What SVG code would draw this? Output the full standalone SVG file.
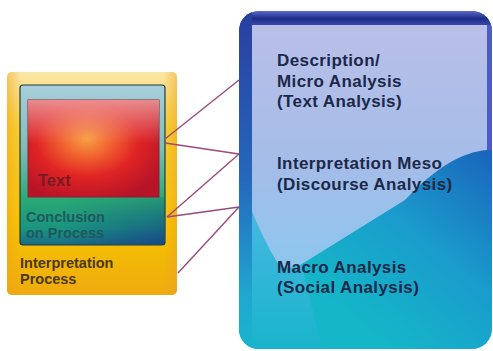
<svg xmlns="http://www.w3.org/2000/svg" width="493" height="351" viewBox="0 0 493 351">
<defs>
<linearGradient id="gYellow" x1="0" y1="0" x2="0" y2="1">
<stop offset="0" stop-color="#fbe7a8"/>
<stop offset="0.25" stop-color="#f8d030"/>
<stop offset="0.7" stop-color="#f6c400"/>
<stop offset="1" stop-color="#efaa10"/>
</linearGradient>
<linearGradient id="gYellowSide" x1="0" y1="0" x2="1" y2="0">
<stop offset="0" stop-color="#f0a020" stop-opacity="0.5"/>
<stop offset="0.08" stop-color="#f0a020" stop-opacity="0"/>
<stop offset="0.92" stop-color="#f0a020" stop-opacity="0"/>
<stop offset="1" stop-color="#f0a020" stop-opacity="0.5"/>
</linearGradient>
<linearGradient id="gTeal" x1="0" y1="0" x2="0" y2="1">
<stop offset="0" stop-color="#a9cfdc"/>
<stop offset="0.4" stop-color="#80bcb4"/>
<stop offset="0.72" stop-color="#2aa874"/>
<stop offset="0.9" stop-color="#1a9480"/>
<stop offset="1" stop-color="#1a6a88"/>
</linearGradient>
<linearGradient id="gTealShade" x1="0" y1="0" x2="1" y2="0">
<stop offset="0.3" stop-color="#173e86" stop-opacity="0"/>
<stop offset="1" stop-color="#173e86" stop-opacity="0.75"/>
</linearGradient>
<linearGradient id="gTealMask" x1="0" y1="0" x2="0" y2="1">
<stop offset="0" stop-color="#fff" stop-opacity="0.2"/>
<stop offset="1" stop-color="#fff" stop-opacity="1"/>
</linearGradient>
<mask id="tealMask">
<rect x="20" y="197" width="146" height="48" fill="url(#gTealMask)"/>
</mask>
<radialGradient id="gRed" cx="0.45" cy="0.4" r="0.65">
<stop offset="0" stop-color="#f8a040"/>
<stop offset="0.3" stop-color="#f06030"/>
<stop offset="0.6" stop-color="#e02424"/>
<stop offset="1" stop-color="#b81428"/>
</radialGradient>
<linearGradient id="gRedTop" x1="0" y1="0" x2="0" y2="1">
<stop offset="0" stop-color="#f0a0a0" stop-opacity="0.85"/>
<stop offset="0.45" stop-color="#f0a0a0" stop-opacity="0"/>
</linearGradient>
<linearGradient id="gBlueBase" x1="1" y1="0.35" x2="0.6" y2="1">
<stop offset="0" stop-color="#1a5cb8"/>
<stop offset="0.55" stop-color="#1a9ccc"/>
<stop offset="1" stop-color="#14b6c8"/>
</linearGradient>
<linearGradient id="gBlueLeft" x1="0" y1="0" x2="0" y2="1">
<stop offset="0" stop-color="#50b8e8"/>
<stop offset="1" stop-color="#18b4cc"/>
</linearGradient>
<linearGradient id="gPage" x1="0" y1="0" x2="0" y2="1">
<stop offset="0" stop-color="#b9bfe8"/>
<stop offset="0.6" stop-color="#a3bde8"/>
<stop offset="1" stop-color="#8cc6ee"/>
</linearGradient>
<linearGradient id="gBorder" x1="0" y1="0" x2="0" y2="1">
<stop offset="0" stop-color="#5a6ac8"/>
<stop offset="0.55" stop-color="#1e2c88"/>
<stop offset="1" stop-color="#3a4aa8"/>
</linearGradient>
<linearGradient id="gLeftEdge" x1="0" y1="0" x2="0" y2="1">
<stop offset="0" stop-color="#2a3ea0"/>
<stop offset="0.5" stop-color="#2468bc"/>
<stop offset="0.85" stop-color="#20a8d0"/>
<stop offset="1" stop-color="#18b4cc"/>
</linearGradient>
<clipPath id="boxClip">
<rect x="239" y="11" width="253" height="338" rx="20"/>
</clipPath>
</defs>
<style>
.lbl{font-family:"Liberation Sans",Arial,sans-serif;font-weight:bold}
.blue{font-size:17px;letter-spacing:0.4px;fill:#1c2848}
.conn{stroke:#9a4a7c;stroke-width:1.4;fill:none}
</style>
<rect width="493" height="351" fill="#ffffff"/>

<g id="interpretation-process">
<rect x="7" y="72" width="170" height="223" rx="5" fill="url(#gYellow)"/>
<rect x="7" y="72" width="170" height="223" rx="5" fill="url(#gYellowSide)"/>
<text class="lbl" x="20" y="268" font-size="14.5" fill="#4a3810">Interpretation</text>
<text class="lbl" x="20" y="284" font-size="14.5" fill="#4a3810">Process</text>
</g>

<g id="conclusion-process">
<rect x="20" y="85" width="145" height="160" rx="3" fill="url(#gTeal)" stroke="#1d3a44" stroke-width="1.2"/>
<rect x="20.6" y="197" width="143.8" height="47.4" rx="2" fill="url(#gTealShade)" mask="url(#tealMask)"/>
<text class="lbl" x="26" y="221.5" font-size="14.5" fill="#1d5a5c">Conclusion</text>
<text class="lbl" x="26" y="237.5" font-size="14.5" fill="#1d5a5c">on Process</text>
</g>

<g id="text-box">
<rect x="28" y="100" width="131" height="97" fill="url(#gRed)" stroke="#8a2030" stroke-width="1"/>
<rect x="28" y="100" width="131" height="97" fill="url(#gRedTop)"/>
<text class="lbl" x="38" y="186" font-size="16.5" fill="#7a1a22">Text</text>
</g>

<g id="analysis-box">
<g clip-path="url(#boxClip)">
<rect x="239" y="11" width="253" height="338" fill="url(#gBlueBase)"/>
<path d="M239,200 L239,349 L322,349 L302,266 Z" fill="url(#gBlueLeft)" opacity="0.9"/>
<path d="M250,25 L487,25 L487,150 C462,152 435,168 405,200 L305,262 C295,269 283,270 277,262 C267,246 259,228 252,212 Z" fill="url(#gPage)"/>
<rect x="239" y="11" width="253" height="14" fill="url(#gBorder)"/>
<rect x="487" y="25" width="5" height="125" fill="#4c5cc0"/>
<rect x="239" y="11" width="13" height="338" fill="url(#gLeftEdge)"/>
</g>
<text class="lbl blue" x="277" y="66">Description/</text>
<text class="lbl blue" x="277" y="87">Micro Analysis</text>
<text class="lbl blue" x="277" y="107">(Text Analysis)</text>
<text class="lbl blue" x="277" y="169">Interpretation Meso</text>
<text class="lbl blue" x="277" y="190">(Discourse Analysis)</text>
<text class="lbl blue" x="277" y="273">Macro Analysis</text>
<text class="lbl blue" x="277" y="293">(Social Analysis)</text>
</g>

<g id="connectors">
<line class="conn" x1="165" y1="139" x2="239" y2="80"/>
<line class="conn" x1="165" y1="143" x2="239" y2="154"/>
<line class="conn" x1="167" y1="217" x2="239" y2="154"/>
<line class="conn" x1="167" y1="217" x2="239" y2="207"/>
<line class="conn" x1="178" y1="273" x2="239" y2="207"/>
</g>
</svg>
